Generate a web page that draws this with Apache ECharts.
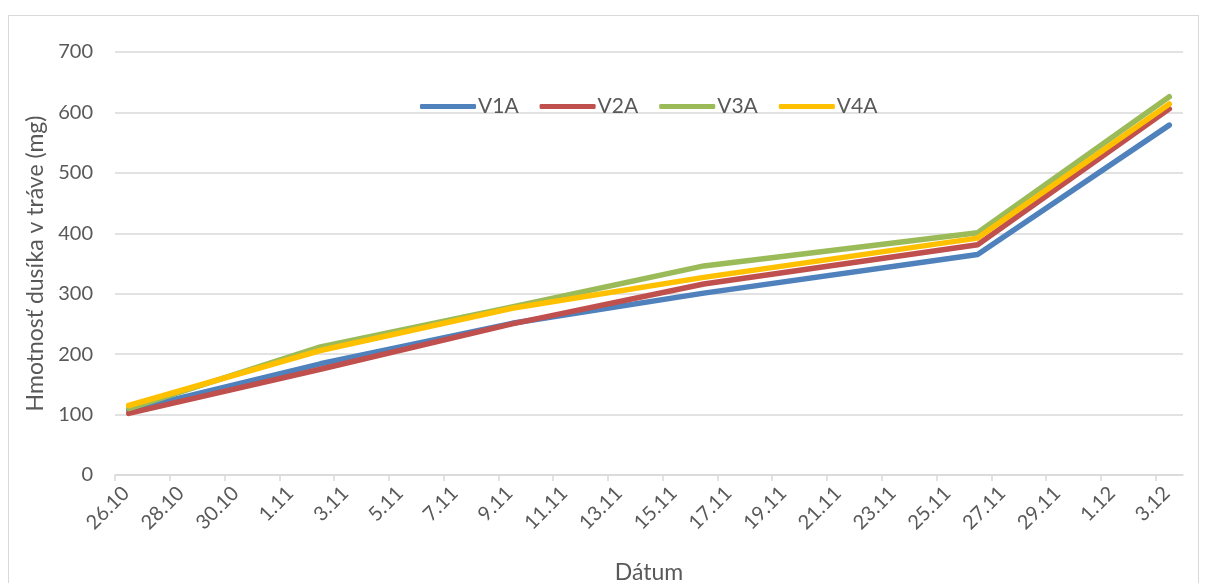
<!DOCTYPE html>
<html>
<head>
<meta charset="utf-8">
<script src="https://cdn.jsdelivr.net/npm/echarts@6/dist/echarts.min.js"></script>
<style>
  html, body { margin: 0; padding: 0; background: #fff; }
  #frame { position: absolute; left: 8px; top: 15px; width: 1191px; height: 600px;
           border: 1px solid #d9d9d9; box-sizing: border-box; }
  #chart { position: absolute; left: 0; top: 0; width: 1206px; height: 583px; }
</style>
</head>
<body>
<div id="frame"></div>
<div id="chart"></div>
<script>
// Sampling dates (day.month) and nitrogen mass in grass (mg) per variant
const dates = ['26.10', '2.11', '9.11', '16.11', '26.11', '3.12'];
const v1a = [107, 184, 251, 301, 365, 579];
const v2a = [102, 175, 250, 316, 381, 606];
const v3a = [110, 212, 278, 346, 401, 626];
const v4a = [115, 206, 276, 327, 392, 614];

// Date-axis tick labels, one every two days
const tickLabels = ['26.10', '28.10', '30.10', '1.11', '3.11', '5.11', '7.11', '9.11',
  '11.11', '13.11', '15.11', '17.11', '19.11', '21.11', '23.11', '25.11',
  '27.11', '29.11', '1.12', '3.12'];

const seriesNames = ['V1A', 'V2A', 'V3A', 'V4A'];
const seriesColors = ['#4F81BD', '#C0504D', '#9BBB59', '#FFC000'];

// Day offset from the first date (each day is one slot on the axis)
function dayOffset(s) {
  const [d, m] = s.split('.').map(Number);
  const t = Date.UTC(2000, m - 1, d);
  const [d0, m0] = dates[0].split('.').map(Number);
  return Math.round((t - Date.UTC(2000, m0 - 1, d0)) / 86400000);
}

const totalDays = dayOffset(tickLabels[tickLabels.length - 1]) + 1;
const tickPos = tickLabels.map(dayOffset);
const labelPos = tickPos.map(p => p + 0.4);
const labelByPos = {};
labelPos.forEach((p, i) => { labelByPos[p.toFixed(2)] = tickLabels[i]; });

function pairs(vals) {
  // points sit in the middle of their day slot
  return dates.map((d, i) => [dayOffset(d) + 0.5, vals[i]]);
}

const textColor = '#595959';
const font = 'Lato, "Open Sans", sans-serif';

const chart = echarts.init(document.getElementById('chart'), null, { renderer: 'canvas' });
chart.setOption({
  animation: false,
  textStyle: { fontFamily: font },
  grid: { left: 115, right: 23, top: 52, bottom: 108, outerBoundsMode: 'none', containLabel: false },
  legend: {
    left: 415, top: 91,
    icon: 'roundRect',
    itemWidth: 56, itemHeight: 5,
    itemGap: 21,
    textStyle: { color: textColor, fontSize: 21, fontFamily: font, padding: [0, 0, 0, -3] },
    data: seriesNames
  },
  xAxis: {
    type: 'value',
    min: 0, max: totalDays,
    name: 'Dátum',
    nameLocation: 'middle',
    nameGap: 86,
    nameTextStyle: { color: textColor, fontSize: 23, fontFamily: font },
    axisLine: { show: true, lineStyle: { color: '#d9d9d9', width: 1.5 } },
    axisTick: { show: true, customValues: tickPos, length: 6, lineStyle: { color: '#d9d9d9', width: 1.5 } },
    axisLabel: {
      customValues: labelPos,
      rotate: 45,
      margin: 15,
      color: textColor, fontSize: 20, fontFamily: font,
      formatter: v => labelByPos[v.toFixed(2)] || ''
    },
    splitLine: { show: false }
  },
  yAxis: {
    type: 'value',
    min: 0, max: 700, interval: 100,
    name: 'Hmotnosť dusíka v tráve (mg)',
    nameLocation: 'middle',
    nameGap: 68,
    nameTextStyle: { color: textColor, fontSize: 23, fontFamily: font },
    axisLine: { show: false },
    axisTick: { show: false },
    axisLabel: { color: textColor, fontSize: 20, margin: 22, fontFamily: font },
    splitLine: { lineStyle: { color: '#d9d9d9', width: 1.5 } }
  },
  series: [v1a, v2a, v3a, v4a].map((vals, i) => ({
    name: seriesNames[i],
    type: 'line',
    data: pairs(vals),
    showSymbol: false,
    symbol: 'none',
    color: seriesColors[i],
    lineStyle: { width: 5.5, color: seriesColors[i], cap: 'round', join: 'round' }
  }))
});
</script>
</body>
</html>
